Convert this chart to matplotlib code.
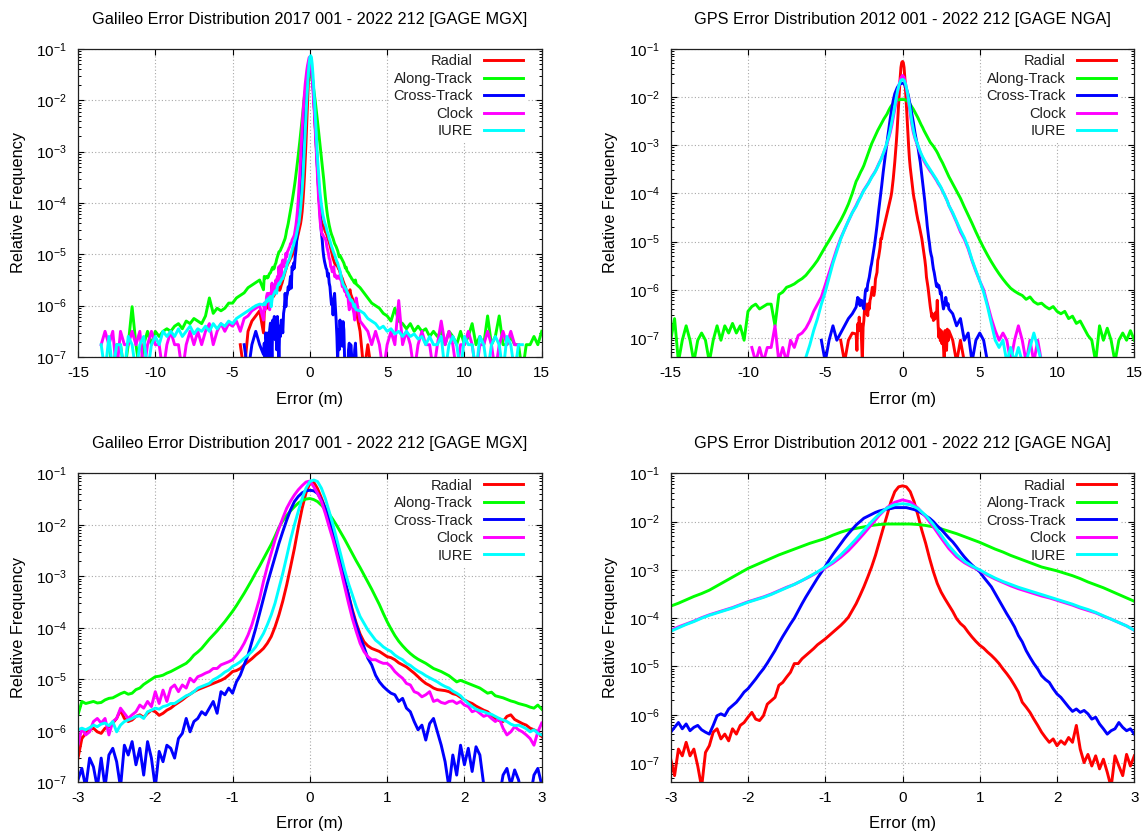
import numpy as np
import matplotlib
matplotlib.use("Agg")
import matplotlib.pyplot as plt
from matplotlib.ticker import FixedLocator, FuncFormatter, NullFormatter

nan = float("nan")

# ---------------- data (log10 of relative frequency) ----------------
labels = ["Radial", "Along-Track", "Cross-Track", "Clock", "IURE"]
colors = ["#ff0000", "#00ff00", "#0000ff", "#ff00ff", "#00ffff"]

titles = ["Galileo Error Distribution 2017 001 - 2022 212 [GAGE MGX]",
          "GPS Error Distribution 2012 001 - 2022 212 [GAGE NGA]"]

x_fine = np.round(np.linspace(-3.0, 3.0, 121), 2)      # 0.05 m bins
x_coarse = np.round(np.linspace(-3.0, 3.0, 61), 2)     # 0.1 m bins
x_tail_left = np.linspace(-15.0, -3.25, 48)
x_tail_right = np.linspace(3.25, 15.0, 48)

# Galileo, |x| <= 3
gal_rad = [-6.53, -6.15, -6.05, -5.98, -5.95, -6.02, -6.05, -5.95, -5.92, -5.85,
           -5.76, -5.60, -5.76, -5.82, -5.79, -5.72, -5.69, -5.74, -5.66, -5.60,
           -5.63, -5.70, -5.66, -5.60, -5.56, -5.50, -5.45, -5.40, -5.34, -5.29,
           -5.24, -5.20, -5.17, -5.14, -5.11, -5.08, -5.05, -5.02, -4.98, -4.92,
           -4.85, -4.83, -4.79, -4.72, -4.66, -4.60, -4.53, -4.47, -4.40, -4.30,
           -4.17, -3.98, -3.75, -3.48, -3.17, -2.82, -2.46, -2.05, -1.68, -1.38,
           -1.19,
           -1.17, -1.30, -1.48, -1.68, -1.92, -2.20, -2.48, -2.78, -3.07, -3.36,
           -3.65, -3.91, -4.12, -4.27, -4.35, -4.40, -4.43, -4.46, -4.51, -4.56,
           -4.58, -4.62, -4.68, -4.72, -4.76, -4.82, -4.88, -4.95, -5.02, -5.08,
           -5.12, -5.17, -5.20, -5.21, -5.22, -5.24, -5.28, -5.30, -5.35, -5.40,
           -5.44, -5.47, -5.52, -5.56, -5.60, -5.63, -5.70, -5.76, -5.80, -5.82,
           -5.72, -5.69, -5.78, -5.82, -5.86, -5.89, -5.95, -5.98, -6.02, -6.11]
gal_along = [-5.69, -5.43, -5.47, -5.45, -5.43, -5.46, -5.45, -5.40, -5.37, -5.36,
             -5.32, -5.28, -5.25, -5.29, -5.27, -5.20, -5.17, -5.10, -5.05, -5.00,
             -4.95, -4.94, -4.92, -4.88, -4.85, -4.81, -4.77, -4.73, -4.69, -4.62,
             -4.53, -4.47, -4.40, -4.31, -4.22, -4.14, -4.06, -3.97, -3.88, -3.78,
             -3.68, -3.57, -3.45, -3.33, -3.20, -3.07, -2.93, -2.80, -2.66, -2.52,
             -2.38, -2.22, -2.05, -1.92, -1.82, -1.73, -1.65, -1.58, -1.53, -1.50,
             -1.49,
             -1.51, -1.55, -1.62, -1.70, -1.79, -1.90, -2.02, -2.15, -2.28, -2.42,
             -2.56, -2.70, -2.83, -2.97, -3.11, -3.25, -3.40, -3.55, -3.72, -3.88,
             -4.02, -4.15, -4.26, -4.35, -4.43, -4.50, -4.56, -4.61, -4.65, -4.69,
             -4.74, -4.79, -4.82, -4.85, -4.89, -4.93, -4.99, -5.05, -5.02, -5.05,
             -5.08, -5.11, -5.14, -5.17, -5.22, -5.27, -5.25, -5.32, -5.34, -5.36,
             -5.39, -5.42, -5.44, -5.47, -5.49, -5.51, -5.54, -5.56, -5.50, -5.58]
gal_cross = [-6.95, -6.73, -7.10, -6.53, -6.70, -7.10, -6.53, -7.10, -6.47, -6.34,
             -6.60, -7.10, -6.28, -6.47, -6.21, -6.66, -6.34, -6.86, -6.21, -6.53,
             -7.10, -6.40, -6.60, -6.28, -6.34, -6.53, -6.15, -6.05, -5.76, -6.02,
             -5.82, -5.76, -5.63, -5.69, -5.56, -5.43, -5.66, -5.24, -5.30, -5.17,
             -5.27, -5.05, -4.92, -4.72, -4.53, -4.27, -4.01, -3.72, -3.43, -3.14,
             -2.88, -2.62, -2.36, -2.13, -1.91, -1.71, -1.55, -1.45, -1.38, -1.34,
             -1.33,
             -1.34, -1.39, -1.52, -1.68, -1.91, -2.20, -2.46, -2.75, -3.07, -3.36,
             -3.69, -3.94, -4.17, -4.37, -4.59, -4.72, -4.92, -5.05, -5.14, -5.21,
             -5.27, -5.30, -5.43, -5.37, -5.56, -5.63, -5.82, -5.98, -5.89, -6.18,
             -5.86, -5.76, -6.02, -6.28, -6.60, -7.10, -6.47, -6.86, -6.28, -6.66,
             -6.34, -6.79, -6.31, -6.47, -7.05, -7.30, -7.30, -7.30, -7.30, -6.86,
             -6.73, -7.05, -6.76, -6.95, -7.30, -7.30, -7.30, -6.86, -6.73, -7.05]
gal_clock = [-6.28, -5.95, -6.08, -6.02, -5.82, -5.76, -5.85, -5.76, -6.08, -5.82,
             -5.76, -5.56, -5.66, -5.76, -5.69, -5.63, -5.50, -5.56, -5.43, -5.53,
             -5.24, -5.47, -5.21, -5.43, -5.17, -5.11, -5.24, -5.11, -5.17, -4.98,
             -5.05, -4.95, -4.92, -4.88, -4.85, -4.79, -4.79, -4.72, -4.69, -4.66,
             -4.62, -4.53, -4.43, -4.30, -4.14, -3.94, -3.69, -3.43, -3.10, -2.81,
             -2.55, -2.29, -2.07, -1.87, -1.68, -1.54, -1.42, -1.32, -1.24, -1.17,
             -1.15,
             -1.26, -1.39, -1.55, -1.78, -2.04, -2.29, -2.58, -2.88, -3.20, -3.52,
             -3.82, -4.07, -4.30, -4.46, -4.56, -4.62, -4.62, -4.66, -4.69, -4.69,
             -4.75, -4.85, -4.92, -4.98, -5.08, -5.11, -5.24, -5.27, -5.34, -5.30,
             -5.24, -5.43, -5.40, -5.45, -5.47, -5.43, -5.42, -5.47, -5.43, -5.50,
             -5.53, -5.63, -5.60, -5.66, -5.72, -5.69, -5.76, -5.82, -5.76, -5.95,
             -6.08, -6.02, -5.92, -5.98, -6.02, -6.08, -6.15, -6.28, -6.02, -5.85]
gal_iure = [-5.98, -5.95, -5.98, -5.94, -5.89, -5.92, -5.87, -5.85, -5.90, -5.82,
            -6.02, -5.89, -5.82, -5.79, -5.76, -5.72, -5.71, -5.76, -5.63, -5.60,
            -5.56, -5.58, -5.53, -5.51, -5.47, -5.47, -5.42, -5.37, -5.32, -5.29,
            -5.24, -5.17, -5.14, -5.11, -5.08, -5.01, -4.97, -4.92, -4.86, -4.82,
            -4.75, -4.71, -4.66, -4.59, -4.53, -4.46, -4.37, -4.24, -4.11, -3.94,
            -3.75, -3.52, -3.23, -2.94, -2.62, -2.29, -2.00, -1.74, -1.49, -1.29,
            -1.16,
            -1.13, -1.16, -1.29, -1.49, -1.74, -2.00, -2.29, -2.58, -2.88, -3.14,
            -3.36, -3.59, -3.78, -3.91, -4.04, -4.14, -4.24, -4.30, -4.37, -4.42,
            -4.46, -4.53, -4.58, -4.62, -4.69, -4.73, -4.79, -4.84, -4.88, -4.93,
            -4.97, -5.01, -5.05, -5.10, -5.14, -5.17, -5.23, -5.27, -5.32, -5.40,
            -5.47, -5.53, -5.58, -5.61, -5.63, -5.66, -5.68, -5.72, -5.76, -5.79,
            -5.82, -5.87, -5.90, -5.89, -5.92, -5.96, -6.02, -5.98, -6.05, -6.08]

# Galileo tails, -15 .. -3.25 and 3.25 .. 15 (0.25 m steps)
gal_rad_left = [nan] * 42 + [-6.76, -7.3, -6.5, -6.3, -6.2, -6.1]
gal_rad_right = [-6.5, -7.3, -6.76, -7.3] + [nan] * 44
gal_along_left = [nan] * 8 + [
    -6.76, -7.3, -6.76, -6.76, -7.3, -6.76, -6.02, -6.76, -7.3, -6.76,
    -6.5, -6.76, -6.5, -6.6, -6.5, -6.45, -6.5, -6.4, -6.35, -6.45,
    -6.3, -6.35, -6.25, -6.3, -6.35, -6.2, -5.85, -6.15, -6.05, -6.1,
    -6.05, -5.95, -5.95, -5.85, -5.8, -5.75, -5.65, -5.6, -5.55, -5.5]
gal_along_right = [
    -5.65, -5.75, -5.85, -5.95, -6.0, -6.05, -6.15, -6.2, -6.3, -6.05,
    -6.3, -6.35, -6.45, -6.35, -6.5, -6.4, -6.5, -6.45, -6.6, -6.5,
    -6.6, -6.5, -6.76, -6.5, -6.6, -6.76, -6.5, -6.76, -6.6, -6.35,
    -6.76, -6.6, -6.76, -6.2, -6.76, -6.6, -6.2, -6.76, -6.76, -6.6,
    -6.76, -6.76, -7.3, -6.76, -6.76, -6.6, -6.76, -6.5]
gal_cross_left = [nan] * 43 + [-6.76, -7.3, -6.76, -6.5, -6.76]
gal_cross_right = [nan] * 48
gal_clock_left = [nan] * 6 + [
    -6.76, -6.5, -6.76, -6.5, -7.3, -6.5, -6.76, -6.76, -6.5, -6.76,
    -6.5, -7.3, -6.76, -6.5, -6.76, -6.76, -7.3, -6.76, -6.5, -6.76,
    -6.76, -7.3, -6.76, -6.5, -6.76, -6.5, -6.76, -6.5, -6.35, -6.76,
    -6.5, -6.35, -6.5, -6.35, -6.4, -6.3, -6.5, -6.25, -6.2, -6.1,
    -6.05, -6.0]
gal_clock_right = [
    -6.3, -6.4, -6.5, -6.76, -6.5, -6.76, -7.3, -6.76, -6.5, -6.76,
    -5.9, -6.76, -6.5, -6.76, -7.3, -6.76, -6.5, -6.76, -6.76, -7.3,
    -6.76, -6.3, -6.76, -6.5, -6.76, -7.3, -6.76, -6.76, -6.5, -6.76,
    -7.3, -6.76, -6.76, -6.5, -6.76, -7.3, -6.76, -6.5, -6.76, -6.5,
    -6.76, -6.76] + [nan] * 6
gal_iure_left = [nan] * 6 + [
    -6.76, -7.3, -6.6, -7.3, -6.76, -6.76, -7.3, -6.6, -6.76, -7.3,
    -6.76, -6.6, -7.3, -6.76, -6.6, -6.76, -6.5, -6.6, -6.5, -6.6,
    -6.45, -6.6, -6.5, -6.4, -6.55, -6.45, -6.5, -6.4, -6.5, -6.35,
    -6.45, -6.35, -6.4, -6.3, -6.35, -6.25, -6.2, -6.15, -6.1, -6.05,
    -6.0, -5.97]
gal_iure_right = [
    -6.1, -6.15, -6.25, -6.3, -6.35, -6.45, -6.4, -6.5, -6.45, -6.55,
    -6.5, -6.6, -6.5, -6.6, -6.55, -6.65, -6.6, -6.76, -6.6, -6.76,
    -6.76, -6.6, -7.3, -6.76, -6.6, -6.76, -7.3, -6.6, -6.76, -6.76,
    -7.3, -6.6, -6.76, -7.3, -6.76, -6.6, -6.76, -7.3, -6.6, -6.76,
    -7.3, -6.76, -6.76] + [nan] * 5

# GPS, |x| <= 3
gps_rad = [-6.92, -7.26, -6.71, -6.85, -6.57, -6.85, -6.71, -7.06, -7.50, -6.78,
           -6.64, -6.36, -6.29, -6.50, -6.40, -6.54, -6.29, -6.40, -6.22, -6.16,
           -6.05, -5.95, -6.09, -6.12, -6.02, -5.78, -5.71, -5.64, -5.39, -5.33,
           -5.22, -5.12, -4.94, -4.94, -4.84, -4.77, -4.70, -4.63, -4.55, -4.49,
           -4.43, -4.36, -4.29, -4.22, -4.15, -4.07, -3.98, -3.84, -3.70, -3.53,
           -3.35, -3.15, -2.94, -2.70, -2.42, -2.14, -1.87, -1.59, -1.38, -1.28,
           -1.26,
           -1.28, -1.38, -1.59, -1.87, -2.18, -2.45, -2.76, -3.04, -3.28, -3.46,
           -3.60, -3.73, -3.86, -4.01, -4.11, -4.18, -4.29, -4.39, -4.48, -4.56,
           -4.62, -4.70, -4.77, -4.85, -4.94, -5.05, -5.15, -5.26, -5.39, -5.53,
           -5.74, -5.84, -5.95, -6.09, -6.22, -6.36, -6.47, -6.57, -6.50, -6.64,
           -6.54, -6.61, -6.47, -6.57, -6.22, -6.71, -6.99, -6.82, -7.06, -6.85,
           -7.12, -6.92, -7.19, -7.50, -6.85, -7.06, -7.26, -6.82, -7.06, -6.85]
gps_along = [-3.75, -3.69, -3.62, -3.55, -3.49, -3.42, -3.33, -3.24, -3.15, -3.06,
             -2.97, -2.90, -2.83, -2.76, -2.69, -2.63, -2.57, -2.51, -2.45, -2.40,
             -2.35, -2.28, -2.22, -2.17, -2.14, -2.11, -2.08, -2.06, -2.05, -2.05,
             -2.05,
             -2.05, -2.06, -2.08, -2.11, -2.15, -2.20, -2.25, -2.31, -2.37, -2.43,
             -2.50, -2.57, -2.63, -2.70, -2.76, -2.82, -2.88, -2.94, -2.98, -3.02,
             -3.07, -3.12, -3.18, -3.25, -3.31, -3.37, -3.44, -3.51, -3.58, -3.65]
gps_cross = [-6.36, -6.26, -6.16, -6.29, -6.19, -6.33, -6.26, -6.22, -6.31, -6.36,
             -6.40, -6.22, -6.02, -5.98, -6.02, -5.88, -5.81, -5.74, -5.64, -5.53,
             -5.46, -5.36, -5.26, -5.15, -5.05, -4.93, -4.80, -4.67, -4.52, -4.38,
             -4.25, -4.12, -4.00, -3.85, -3.70, -3.56, -3.43, -3.30, -3.17, -3.05,
             -2.93, -2.80, -2.68, -2.57, -2.46, -2.35, -2.25, -2.16, -2.07, -2.00,
             -1.93, -1.89, -1.85, -1.81, -1.78, -1.76, -1.74, -1.73, -1.71, -1.71,
             -1.71,
             -1.71, -1.73, -1.75, -1.78, -1.83, -1.88, -1.93, -2.00, -2.09, -2.16,
             -2.25, -2.34, -2.42, -2.52, -2.63, -2.73, -2.82, -2.90, -2.97, -3.04,
             -3.15, -3.25, -3.35, -3.49, -3.63, -3.77, -3.91, -4.04, -4.18, -4.36,
             -4.49, -4.67, -4.81, -4.94, -5.05, -5.19, -5.27, -5.33, -5.46, -5.57,
             -5.64, -5.74, -5.84, -5.93, -5.88, -5.95, -5.91, -5.98, -6.09, -6.05,
             -6.19, -6.29, -6.40, -6.33, -6.29, -6.16, -6.26, -6.33, -6.29, -6.40]
gps_clock = [-4.25, -4.18, -4.12, -4.06, -3.99, -3.93, -3.88, -3.83, -3.78, -3.72,
             -3.66, -3.61, -3.56, -3.50, -3.43, -3.36, -3.30, -3.22, -3.14, -3.05,
             -2.96, -2.86, -2.74, -2.60, -2.43, -2.25, -2.06, -1.87, -1.71, -1.60,
             -1.55,
             -1.59, -1.72, -1.90, -2.11, -2.34, -2.56, -2.73, -2.85, -2.94, -3.01,
             -3.11, -3.19, -3.26, -3.33, -3.39, -3.44, -3.49, -3.54, -3.58, -3.63,
             -3.68, -3.73, -3.79, -3.84, -3.89, -3.96, -4.02, -4.09, -4.16, -4.25]
gps_iure = [-4.27, -4.20, -4.13, -4.07, -4.00, -3.94, -3.89, -3.84, -3.79, -3.73,
            -3.67, -3.62, -3.57, -3.51, -3.44, -3.37, -3.30, -3.22, -3.13, -3.04,
            -2.94, -2.83, -2.69, -2.53, -2.36, -2.18, -2.00, -1.84, -1.72, -1.65,
            -1.63,
            -1.65, -1.73, -1.87, -2.06, -2.28, -2.50, -2.68, -2.82, -2.92, -3.00,
            -3.09, -3.17, -3.24, -3.30, -3.36, -3.41, -3.46, -3.51, -3.56, -3.61,
            -3.66, -3.71, -3.77, -3.82, -3.88, -3.95, -4.02, -4.09, -4.16, -4.25]

# GPS tails
gps_rad_left = [nan] * 44 + [-7.05, -7.5, -7.05, -6.9]
gps_rad_right = [-7.05, -7.5, -7.05, -7.5] + [nan] * 44
gps_along_left = [
    -7.05, -6.6, -7.5, -7.05, -6.75, -7.05, -7.5, -7.05,
    -6.9, -7.05, -7.5, -7.05, -6.75, -7.05, -6.75, -6.9,
    -6.7, -6.9, -6.75, -7.05, -6.45, -6.35, -6.3, -6.4,
    -6.35, -6.3, -6.3, -6.75, -6.1, -6.05, -5.95, -5.92,
    -5.88, -5.82, -5.77, -5.7, -5.6, -5.5, -5.39, -5.25,
    -5.11, -4.98, -4.84, -4.7, -4.56, -4.4, -4.22, -4.0]
gps_along_right = [
    -3.8, -3.95, -4.1, -4.28, -4.45, -4.62, -4.8, -4.97,
    -5.13, -5.28, -5.42, -5.55, -5.67, -5.78, -5.88, -5.97,
    -6.03, -6.08, -6.12, -6.2, -6.15, -6.25, -6.3, -6.28,
    -6.35, -6.4, -6.35, -6.45, -6.5, -6.45, -6.6, -6.55,
    -6.7, -6.65, -6.8, -6.95, -7.05, -7.5, -6.75, -7.05,
    -6.8, -7.05, -7.5, -7.05, -6.9, -7.05, -6.85, -7.05]
gps_cross_left = [nan] * 39 + [-7.05, -7.5, -7.05, -6.75, -7.05, -6.9, -6.75, -6.6, -6.5]
gps_cross_right = [-6.5, -6.75, -6.6, -7.05, -6.9, -7.5, -7.05, -6.9, -7.05, -7.5] + [nan] * 38
gps_clock_left = [nan] * 21 + [
    -7.2, -7.5, -7.2, -7.5, -7.2, -7.2, -6.75, -7.5, -7.2, -7.5,
    -7.05, -7.2, -6.95, -6.9, -6.8, -6.65, -6.45, -6.3, -6.15, -5.9,
    -5.65, -5.4, -5.15, -4.93, -4.75, -4.57, -4.4]
gps_clock_right = [
    -4.42, -4.6, -4.8, -4.95, -5.15, -5.4, -5.62, -5.82, -6.0, -6.3,
    -6.6, -6.85, -7.05, -6.9, -7.05, -7.5, -7.05, -6.75, -7.05, -7.5,
    -7.05, -7.5, -7.05, -7.5] + [nan] * 24
gps_iure_left = [nan] * 35 + [
    -7.4, -7.15, -6.85, -6.6, -6.3, -6.05, -5.75, -5.45, -5.2, -4.95,
    -4.75, -4.57, -4.4]
gps_iure_right = [
    -4.4, -4.58, -4.76, -4.92, -5.12, -5.38, -5.6, -5.82, -6.05, -6.35,
    -6.7, -7.05, -7.2, -7.05, -7.5, -7.2, -7.5, -7.2, -7.5, -7.5,
    -7.2, -6.9, -7.2, -7.5] + [nan] * 24

# ---------------- figure ----------------
plt.rcParams["font.family"] = ["Liberation Sans", "DejaVu Sans"]
plt.rcParams["mathtext.fontset"] = "custom"
plt.rcParams["mathtext.rm"] = "Liberation Sans"
plt.rcParams["mathtext.it"] = "Liberation Sans:italic"
plt.rcParams["mathtext.bf"] = "Liberation Sans:bold"
plt.rcParams["mathtext.default"] = "regular"
plt.rcParams["axes.unicode_minus"] = False

W, H = 1148, 836
fig = plt.figure(figsize=(W / 100, H / 100), dpi=100)


def add_ax(x0, x1, y0, y1):
    return fig.add_axes([x0 / W, 1 - y1 / H, (x1 - x0) / W, (y1 - y0) / H])


ax_tl = add_ax(78, 541.7, 49, 357)
ax_tr = add_ax(670.7, 1134.3, 49, 357)
ax_bl = add_ax(78, 541.7, 473.3, 782.3)
ax_br = add_ax(670.7, 1134.3, 473.3, 782.3)

FS = 11


def style(ax, xlim, xticks, ymin, title, xlab_y):
    ax.set_yscale("log")
    ax.set_xlim(*xlim)
    ax.set_ylim(ymin, 1e-1)
    ax.set_xticks(xticks)
    majors = [10.0 ** e for e in range(-7, 0)]
    minors = [m * 10.0 ** e for e in range(-8, -1) for m in range(2, 10)
              if ymin <= m * 10.0 ** e <= 1e-1]
    ax.yaxis.set_major_locator(FixedLocator(majors))
    ax.yaxis.set_minor_locator(FixedLocator(minors))
    ax.yaxis.set_major_formatter(FuncFormatter(lambda v, p: r"$10^{%d}$" % round(np.log10(v))))
    ax.yaxis.set_minor_formatter(NullFormatter())
    ax.tick_params(which="both", direction="in", top=True, right=True, colors="black")
    ax.tick_params(which="major", length=4.5, width=0.8, labelsize=FS)
    ax.tick_params(which="minor", length=2.2, width=0.7)
    ax.tick_params(axis="x", pad=6.5)
    ax.tick_params(axis="y", pad=8)
    ax.grid(True, which="major", color="#a8a8a8", linestyle=(0, (1, 2)), linewidth=0.8)
    ax.set_axisbelow(True)
    for s in ax.spines.values():
        s.set_linewidth(0.9)
        s.set_color("#202020")
    ax.set_title(title, fontsize=11.7, pad=18)
    ax.set_xlabel("Error (m)", fontsize=12)
    ax.set_ylabel("Relative Frequency", fontsize=11.7)
    ax.xaxis.set_label_coords(0.5, xlab_y)
    ax.yaxis.set_label_coords(-0.113, 0.5)


def full(left, mid, right):
    return np.concatenate([np.array(left, float), np.array(mid, float), np.array(right, float)])


gal_fine = [gal_rad, gal_along, gal_cross, gal_clock, gal_iure]
gal_left = [gal_rad_left, gal_along_left, gal_cross_left, gal_clock_left, gal_iure_left]
gal_right = [gal_rad_right, gal_along_right, gal_cross_right, gal_clock_right, gal_iure_right]
gps_fine = [gps_rad, gps_along, gps_cross, gps_clock, gps_iure]
gps_left = [gps_rad_left, gps_along_left, gps_cross_left, gps_clock_left, gps_iure_left]
gps_right = [gps_rad_right, gps_along_right, gps_cross_right, gps_clock_right, gps_iure_right]
gps_x = [x_fine, x_coarse, x_fine, x_coarse, x_coarse]

LW = 2.1
for k in range(5):
    # top row: full range
    xg = np.concatenate([x_tail_left, x_fine, x_tail_right])
    ax_tl.plot(xg, 10 ** full(gal_left[k], gal_fine[k], gal_right[k]),
               color=colors[k], lw=LW, label=labels[k])
    xp = np.concatenate([x_tail_left, gps_x[k], x_tail_right])
    ax_tr.plot(xp, 10 ** full(gps_left[k], gps_fine[k], gps_right[k]),
               color=colors[k], lw=LW, label=labels[k])
    # bottom row: zoom on +-3 m
    ax_bl.plot(x_fine, 10 ** np.array(gal_fine[k]), color=colors[k], lw=LW, label=labels[k])
    ax_br.plot(gps_x[k], 10 ** np.array(gps_fine[k]), color=colors[k], lw=LW, label=labels[k])

style(ax_tl, (-15, 15), [-15, -10, -5, 0, 5, 10, 15], 1e-7, titles[0], -0.113)
style(ax_tr, (-15, 15), [-15, -10, -5, 0, 5, 10, 15], 4e-8, titles[1], -0.113)
style(ax_bl, (-3, 3), [-3, -2, -1, 0, 1, 2, 3], 1e-7, titles[0], -0.108)
style(ax_br, (-3, 3), [-3, -2, -1, 0, 1, 2, 3], 4e-8, titles[1], -0.108)

for ax in (ax_tl, ax_tr, ax_bl, ax_br):
    leg = ax.legend(loc="upper right", bbox_to_anchor=(0.970, 0.997), markerfirst=False,
                    frameon=True, fancybox=False, edgecolor="none", facecolor="white",
                    framealpha=1.0, borderpad=0.3, borderaxespad=0.0, handlelength=2.7,
                    handletextpad=0.75, labelspacing=0.24, fontsize=10.5)
    leg.set_zorder(1.8)
    for t in leg.get_texts():
        t.set_color("#202020")

fig.savefig("out.png", dpi=100)
